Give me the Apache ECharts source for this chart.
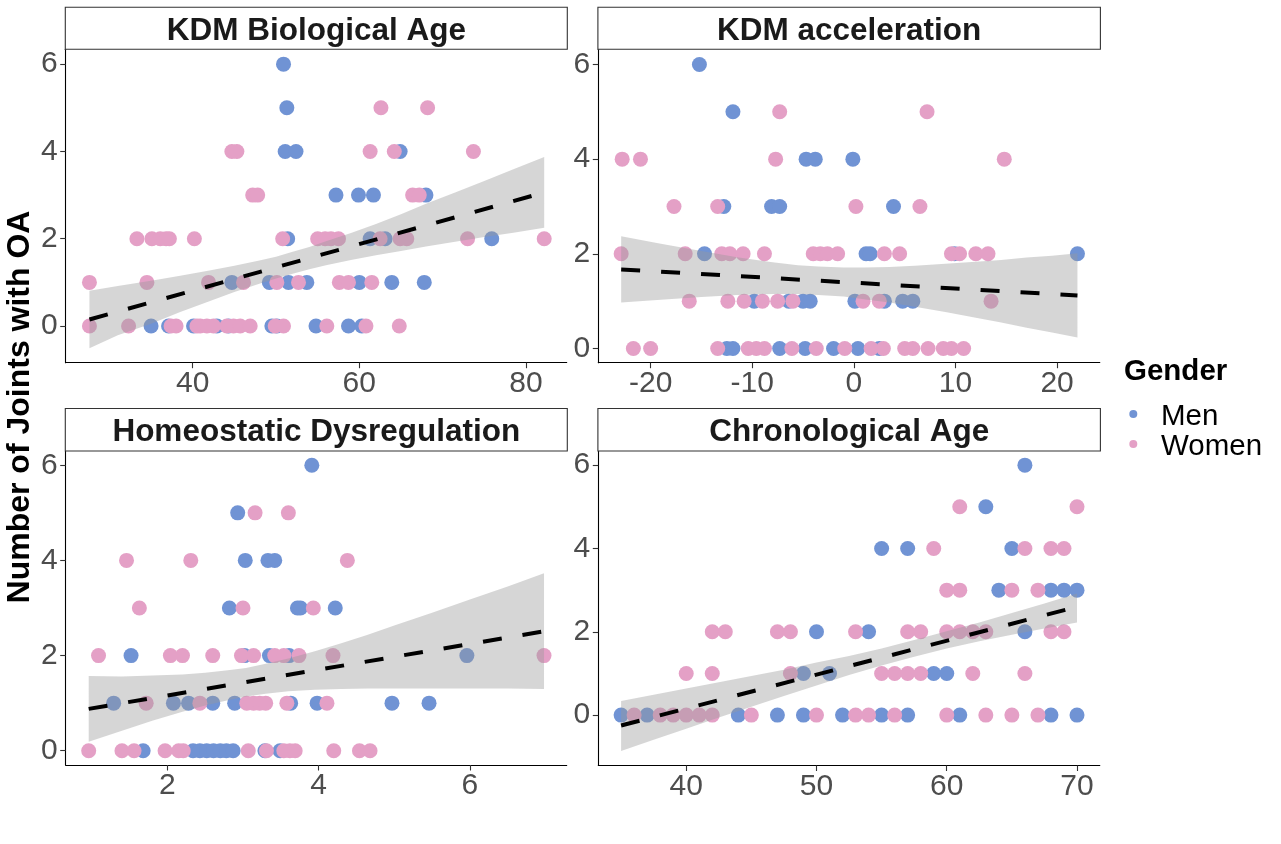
<!DOCTYPE html>
<html>
<head>
<meta charset="utf-8">
<script src="https://cdn.jsdelivr.net/npm/echarts@6/dist/echarts.min.js"></script>
<style>
html,body{margin:0;padding:0;background:#fff;}
#chart{width:1281px;height:844px;}
</style>
</head>
<body>
<div id="chart"></div>
<script>
// ---------- Data ----------
const panelTitles = ["KDM Biological Age", "KDM acceleration", "Homeostatic Dysregulation", "Chronological Age"];
const legendTitle = "Gender";
const genderNames = ["Men", "Women"];
const yAxisTitle = "Number of Joints with OA";

// Panel 1: KDM Biological Age
const kdmBA_men = [[50.9,6],[51.3,5],[51.1,4],[52.4,4],[64.9,4],[57.2,3],[59.9,3],[61.7,3],[68.0,3],[51.4,2],[61.3,2],[63.1,2],[75.9,2],[44.7,1],[49.2,1],[51.5,1],[53.7,1],[60.0,1],[63.9,1],[67.8,1],[35.0,0],[37.1,0],[40.1,0],[42.9,0],[44.3,0],[49.5,0],[50.1,0],[54.8,0],[58.7,0],[60.3,0]];
const kdmBA_women = [[62.6,5],[68.2,5],[44.7,4],[45.3,4],[61.3,4],[64.2,4],[73.7,4],[47.2,3],[47.8,3],[66.4,3],[67.2,3],[33.3,2],[35.1,2],[36.1,2],[36.8,2],[37.2,2],[40.2,2],[50.8,2],[55.0,2],[55.9,2],[56.6,2],[57.5,2],[62.5,2],[64.9,2],[65.7,2],[73.0,2],[82.2,2],[27.6,1],[34.5,1],[41.9,1],[46.1,1],[50.1,1],[52.7,1],[57.6,1],[58.7,1],[61.5,1],[27.6,0],[32.3,0],[37.4,0],[38.0,0],[40.5,0],[40.9,0],[41.7,0],[42.5,0],[44.1,0],[44.9,0],[45.7,0],[46.9,0],[49.9,0],[50.9,0],[56.1,0],[60.8,0],[64.8,0]];
const kdmBA_fit = [[27.6,0.15],[82.2,3.06]];
const kdmBA_bandX = [27.6,31,35,38.5,42,45,48,50,52,54,56,59,62,65,68,71.5,75,78.5,82.2];
const kdmBA_bandLo = [-0.51,-0.21,0.05,0.32,0.57,0.78,0.97,1.09,1.20,1.30,1.39,1.51,1.62,1.72,1.82,1.93,2.04,2.14,2.25];
const kdmBA_bandHi = [0.81,0.92,1.04,1.15,1.27,1.38,1.50,1.59,1.70,1.81,1.94,2.13,2.34,2.56,2.80,3.06,3.32,3.59,3.87];

// Panel 2: KDM acceleration
const kdmAcc_men = [[-15.2,6],[-11.9,5],[-4.7,4],[-3.8,4],[-0.1,4],[-12.8,3],[-8.1,3],[-7.3,3],[3.9,3],[-14.7,2],[1.2,2],[1.6,2],[9.9,2],[22.0,2],[-9.8,1],[-6.4,1],[-5.0,1],[-4.3,1],[0.1,1],[3.0,1],[4.8,1],[5.8,1],[-12.5,0],[-11.9,0],[-7.3,0],[-4.8,0],[-2.0,0],[0.4,0],[2.5,0]];
const kdmAcc_women = [[-7.3,5],[7.2,5],[-22.8,4],[-21.0,4],[-7.7,4],[14.8,4],[-17.7,3],[-13.4,3],[0.2,3],[6.5,3],[-22.9,2],[-16.6,2],[-13.0,2],[-12.2,2],[-10.9,2],[-8.8,2],[-4.0,2],[-3.3,2],[-2.6,2],[-1.6,2],[3.0,2],[4.5,2],[9.6,2],[10.4,2],[12.0,2],[13.2,2],[-16.2,1],[-12.4,1],[-10.8,1],[-9.0,1],[-7.5,1],[-6.0,1],[0.9,1],[2.5,1],[13.5,1],[-21.7,0],[-20.0,0],[-13.4,0],[-10.4,0],[-9.6,0],[-8.8,0],[-6.1,0],[-3.7,0],[-0.9,0],[1.7,0],[2.9,0],[5.0,0],[5.8,0],[7.3,0],[8.8,0],[9.6,0],[10.8,0]];
const kdmAcc_fit = [[-22.9,1.67],[22.0,1.12]];
const kdmAcc_bandX = [-22.9,-19,-15,-11.5,-8,-5.5,-3.5,-1,1,3.5,6,9,12,14.5,17,19.5,22.0];
const kdmAcc_bandLo = [0.97,1.03,1.09,1.13,1.15,1.15,1.13,1.10,1.04,0.97,0.88,0.77,0.65,0.55,0.44,0.34,0.23];
const kdmAcc_bandHi = [2.37,2.21,2.06,1.93,1.82,1.76,1.73,1.71,1.71,1.72,1.75,1.79,1.83,1.87,1.92,1.96,2.01];

// Panel 3: Homeostatic Dysregulation
const hd_men = [[3.91,6],[2.93,5],[3.03,4],[3.33,4],[3.42,4],[2.82,3],[3.72,3],[3.76,3],[4.22,3],[1.52,2],[3.02,2],[3.35,2],[3.61,2],[5.96,2],[1.29,1],[2.08,1],[2.28,1],[2.60,1],[2.89,1],[3.63,1],[3.98,1],[4.97,1],[5.46,1],[1.68,0],[2.34,0],[2.43,0],[2.52,0],[2.61,0],[2.70,0],[2.78,0],[2.87,0],[3.29,0],[3.49,0]];
const hd_women = [[3.16,5],[3.60,5],[1.46,4],[2.31,4],[4.38,4],[1.63,3],[3.00,3],[3.93,3],[1.09,2],[2.04,2],[2.20,2],[2.60,2],[2.98,2],[3.14,2],[3.42,2],[3.54,2],[3.74,2],[4.19,2],[6.98,2],[1.72,1],[2.43,1],[3.05,1],[3.14,1],[3.22,1],[3.30,1],[3.58,1],[4.11,1],[0.96,0],[1.40,0],[1.56,0],[1.97,0],[2.15,0],[2.21,0],[3.07,0],[3.31,0],[3.54,0],[3.62,0],[3.69,0],[4.20,0],[4.54,0],[4.68,0]];
const hd_fit = [[0.96,0.88],[6.98,2.51]];
const hd_bandX = [0.96,1.4,1.8,2.2,2.5,2.8,3.04,3.3,3.6,3.95,4.3,4.65,5.0,5.5,6.0,6.5,6.98];
const hd_bandLo = [0.19,0.42,0.63,0.82,0.95,1.06,1.14,1.20,1.25,1.28,1.30,1.31,1.31,1.31,1.31,1.31,1.30];
const hd_bandHi = [1.57,1.56,1.58,1.60,1.64,1.69,1.74,1.83,1.94,2.09,2.26,2.44,2.63,2.90,3.18,3.45,3.73];

// Panel 4: Chronological Age
const ca_men = [[66,6],[63,5],[55,4],[57,4],[65,4],[64,3],[68,3],[69,3],[70,3],[50,2],[54,2],[66,2],[49,1],[51,1],[59,1],[60,1],[35,0],[37,0],[44,0],[47,0],[49,0],[52,0],[55,0],[57,0],[61,0],[68,0],[70,0]];
const ca_women = [[61,5],[70,5],[59,4],[66,4],[68,4],[69,4],[60,3],[61,3],[65,3],[67,3],[42,2],[43,2],[47,2],[48,2],[53,2],[57,2],[58,2],[60,2],[61,2],[62,2],[63,2],[68,2],[69,2],[40,1],[42,1],[48,1],[55,1],[56,1],[57,1],[58,1],[62,1],[66,1],[36,0],[38,0],[39,0],[40,0],[41,0],[42,0],[45,0],[50,0],[53,0],[54,0],[56,0],[60,0],[63,0],[65,0],[67,0]];
const ca_fit = [[35,-0.25],[70,2.60]];
const ca_bandX = [35,37.5,40,42.5,45,47.5,50,52.5,55,57.5,60,62.5,65,67.5,70];
const ca_bandLo = [-0.86,-0.59,-0.33,-0.06,0.20,0.46,0.71,0.96,1.19,1.40,1.60,1.77,1.93,2.08,2.22];
const ca_bandHi = [0.34,0.49,0.64,0.79,0.94,1.09,1.26,1.42,1.60,1.80,2.01,2.22,2.45,2.68,2.92];

// Tick labels
const xTicks = [[40,60,80],[-20,-10,0,10,20],[2,4,6],[40,50,60,70]];
const yTicks = [0,2,4,6];
// Axis ranges
const xRanges = [[24.75,84.9],[-25.15,24.2],[0.656,7.28],[33.25,71.75]];
const yRanges = [[-0.84,6.34],[-0.3,6.32],[-0.3,6.3],[-1.21,6.34]];

// ---------- Styling / layout ----------
const COL_MEN = '#7093D4';
const COL_WOMEN = '#E4A0C6';
const FONT = '"Liberation Sans", Arial, sans-serif';
const grids = [
  {left:65.7, top:49.3, width:501, height:313.4},
  {left:598.3, top:49.3, width:501.5, height:313.4},
  {left:65.7, top:451, width:501, height:314},
  {left:598.3, top:451, width:501.5, height:314.5}
];
const strips = [
  {x:65.3, y:7.3, w:502, h:42},
  {x:597.9, y:7.3, w:502.5, h:42},
  {x:65.3, y:408.5, w:502, h:42.5},
  {x:597.9, y:408.5, w:502.5, h:42.5}
];

const men = [kdmBA_men, kdmAcc_men, hd_men, ca_men];
const women = [kdmBA_women, kdmAcc_women, hd_women, ca_women];
const fits = [kdmBA_fit, kdmAcc_fit, hd_fit, ca_fit];
const bands = [
  [kdmBA_bandX, kdmBA_bandLo, kdmBA_bandHi],
  [kdmAcc_bandX, kdmAcc_bandLo, kdmAcc_bandHi],
  [hd_bandX, hd_bandLo, hd_bandHi],
  [ca_bandX, ca_bandLo, ca_bandHi]
];

const chart = echarts.init(document.getElementById('chart'), null, {renderer:'canvas'});

const xAxes = [], yAxes = [], series = [], graphics = [];
for (let i = 0; i < 4; i++) {
  xAxes.push({
    gridIndex:i, type:'value', min:xRanges[i][0], max:xRanges[i][1],
    axisLine:{show:true, onZero:false, lineStyle:{color:'#000', width:1.1}},
    axisTick:{show:true, length:5.5, lineStyle:{color:'#333', width:1.1}, customValues:xTicks[i]},
    axisLabel:{show:true, customValues:xTicks[i], fontSize:30, color:'#4D4D4D', fontFamily:FONT, margin:6},
    splitLine:{show:false}
  });
  yAxes.push({
    gridIndex:i, type:'value', min:yRanges[i][0], max:yRanges[i][1],
    axisLine:{show:true, onZero:false, lineStyle:{color:'#000', width:1.1}},
    axisTick:{show:true, length:5.5, lineStyle:{color:'#333', width:1.1}, customValues:yTicks},
    axisLabel:{show:true, customValues:yTicks, fontSize:30, color:'#4D4D4D', fontFamily:FONT, margin:8},
    splitLine:{show:false}
  });
  series.push({
    type:'scatter', name:genderNames[0], xAxisIndex:i, yAxisIndex:i, data:men[i],
    symbol:'circle', symbolSize:15, itemStyle:{color:COL_MEN, opacity:1}, z:2, silent:true
  });
  series.push({
    type:'scatter', name:genderNames[1], xAxisIndex:i, yAxisIndex:i, data:women[i],
    symbol:'circle', symbolSize:15, itemStyle:{color:COL_WOMEN, opacity:1}, z:2, silent:true
  });
  const bx = bands[i][0], blo = bands[i][1], bhi = bands[i][2];
  series.push({
    type:'custom', xAxisIndex:i, yAxisIndex:i, z:3, silent:true,
    data: bx.map((x,k)=>[x, blo[k], bhi[k]]),
    renderItem: function(params, api){
      if (params.dataIndex !== 0) return null;
      const pts = [];
      for (let k = 0; k < bx.length; k++) pts.push(api.coord([bx[k], bhi[k]]));
      for (let k = bx.length-1; k >= 0; k--) pts.push(api.coord([bx[k], blo[k]]));
      return {type:'polygon', shape:{points:pts}, style:{fill:'rgba(153,153,153,0.4)'}};
    }
  });
  series.push({
    type:'line', xAxisIndex:i, yAxisIndex:i, data:fits[i], showSymbol:false, symbol:'none',
    lineStyle:{color:'#000', width:4, type:[19,21], cap:'butt'}, z:4, silent:true
  });
  const s = strips[i];
  graphics.push({type:'rect', shape:{x:s.x, y:s.y, width:s.w, height:s.h},
    style:{fill:'#fff', stroke:'#333', lineWidth:1.1}, z:10});
  graphics.push({type:'text', x:s.x + s.w/2, y:s.y + s.h/2 + 3,
    style:{text:panelTitles[i], font:'bold 31.5px ' + FONT, fill:'#1A1A1A', align:'center', verticalAlign:'middle'}, z:11});
}

// y-axis title
graphics.push({type:'text', x:20, y:407, rotation:Math.PI/2,
  style:{text:yAxisTitle, font:'bold 32px ' + FONT, fill:'#000', align:'center', verticalAlign:'middle'}, z:11});
// legend
graphics.push({type:'text', x:1124, y:372,
  style:{text:legendTitle, font:'bold 29.5px ' + FONT, fill:'#000', align:'left', verticalAlign:'middle'}, z:11});
graphics.push({type:'circle', shape:{cx:1133.3, cy:414, r:4}, style:{fill:COL_MEN}, z:11});
graphics.push({type:'circle', shape:{cx:1133.3, cy:444, r:4}, style:{fill:COL_WOMEN}, z:11});
graphics.push({type:'text', x:1161, y:417,
  style:{text:genderNames[0], font:'29.5px ' + FONT, fill:'#000', align:'left', verticalAlign:'middle'}, z:11});
graphics.push({type:'text', x:1161, y:447,
  style:{text:genderNames[1], font:'29.5px ' + FONT, fill:'#000', align:'left', verticalAlign:'middle'}, z:11});

chart.setOption({
  animation:false,
  backgroundColor:'#fff',
  grid: grids.map(g=>Object.assign({containLabel:false}, g)),
  xAxis:xAxes, yAxis:yAxes, series:series, graphic:graphics
});
</script>
</body>
</html>
